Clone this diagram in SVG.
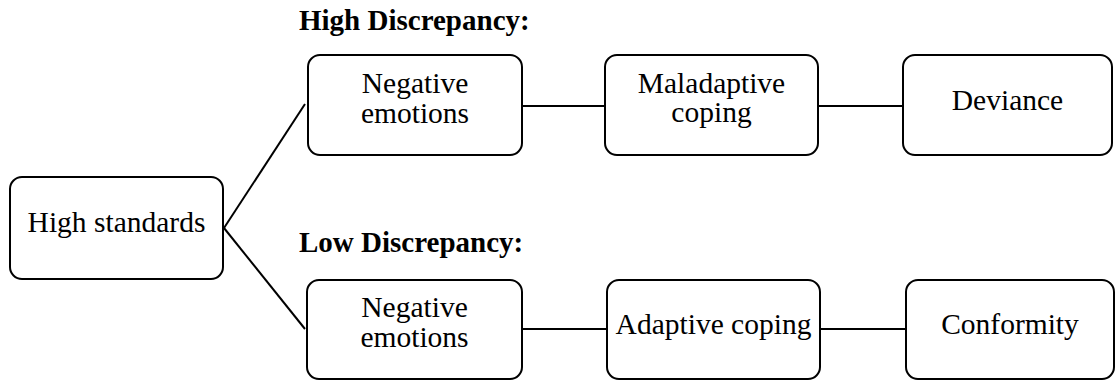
<svg xmlns="http://www.w3.org/2000/svg" width="1117" height="381" viewBox="0 0 1117 381">
<style>
.box{fill:#fff;stroke:#000;stroke-width:2}
.lbl{font-size:29.5px;text-anchor:middle}
.head{font-size:29px;font-weight:bold}
.conn{stroke:#000;stroke-width:2;fill:none}
</style>
<rect width="1117" height="381" fill="#fff"/>
<g id="connectors">
<line class="conn" x1="224" y1="228" x2="305" y2="104"/>
<line class="conn" x1="224" y1="228" x2="305" y2="329"/>
<line class="conn" x1="522" y1="106" x2="605" y2="106"/>
<line class="conn" x1="818" y1="106" x2="903" y2="106"/>
<line class="conn" x1="522" y1="329" x2="607" y2="329"/>
<line class="conn" x1="820" y1="329" x2="906" y2="329"/>
</g>
<g id="label-high"><text class="head" font-family="Liberation Serif" x="299" y="30">High Discrepancy:</text></g>
<g id="label-low"><text class="head" font-family="Liberation Serif" x="299" y="252">Low Discrepancy:</text></g>
<g id="high-standards">
<rect class="box" x="10" y="177" width="213" height="102" rx="12"/>
<text class="lbl" font-family="Liberation Serif" x="116.5" y="232">High standards</text>
</g>
<g id="neg-emotions-high">
<rect class="box" x="308" y="55" width="214" height="100" rx="12"/>
<text class="lbl" font-family="Liberation Serif" x="415" y="92.5">Negative</text>
<text class="lbl" font-family="Liberation Serif" x="415" y="123">emotions</text>
</g>
<g id="maladaptive">
<rect class="box" x="605" y="55" width="213" height="100" rx="12"/>
<text class="lbl" font-family="Liberation Serif" x="711.5" y="92.5">Maladaptive</text>
<text class="lbl" font-family="Liberation Serif" x="711.5" y="122">coping</text>
</g>
<g id="deviance">
<rect class="box" x="903" y="55" width="209" height="100" rx="12"/>
<text class="lbl" font-family="Liberation Serif" x="1007.5" y="110">Deviance</text>
</g>
<g id="neg-emotions-low">
<rect class="box" x="307" y="280" width="215" height="99" rx="12"/>
<text class="lbl" font-family="Liberation Serif" x="414.5" y="317">Negative</text>
<text class="lbl" font-family="Liberation Serif" x="414.5" y="347">emotions</text>
</g>
<g id="adaptive">
<rect class="box" x="607" y="280" width="213" height="99" rx="12"/>
<text class="lbl" font-family="Liberation Serif" x="713.5" y="334">Adaptive coping</text>
</g>
<g id="conformity">
<rect class="box" x="906" y="280" width="208" height="99" rx="12"/>
<text class="lbl" font-family="Liberation Serif" x="1010" y="334">Conformity</text>
</g>
</svg>
